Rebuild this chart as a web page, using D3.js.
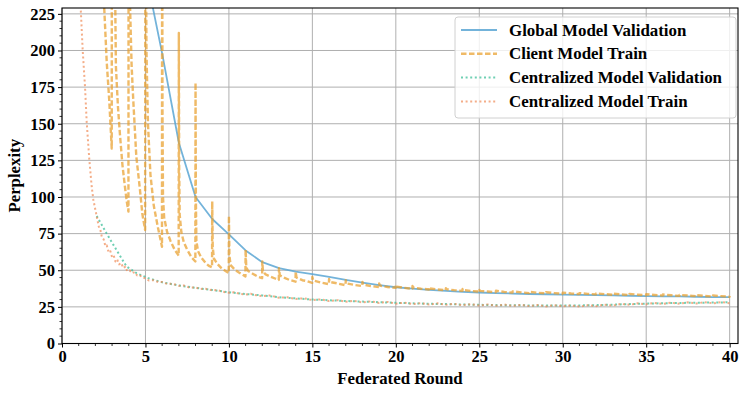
<!DOCTYPE html>
<html>
<head>
<meta charset="utf-8">
<script src="https://cdn.jsdelivr.net/npm/d3@7"></script>
<style>
  body { margin: 0; background: #fff; }
  text { font-family: "Liberation Serif", "Times New Roman", serif; font-weight: bold; }
</style>
</head>
<body>
<svg id="chart" width="747" height="396"></svg>
<script>
// chart values

var xTicks = [0, 5, 10, 15, 20, 25, 30, 35, 40];
var yTicks = [0, 25, 50, 75, 100, 125, 150, 175, 200, 225];

var seriesNames = ["Global Model Validation", "Client Model Train",
                   "Centralized Model Validation", "Centralized Model Train"];

// one value per federated round, rounds 1..40
var globalVal = [1500, 900, 600, 380, 254, 198, 137, 100, 85, 74.5,
                 63.5, 55.5, 51.4, 49, 47.3, 45.5, 43.5, 41.6, 39.9, 38.4,
                 37.4, 36.6, 35.9, 35.3, 34.8, 34.4, 34.1, 33.8, 33.6, 33.4,
                 33.2, 33, 32.8, 32.6, 32.4, 32.2, 32.1, 31.9, 31.7, 31.6];

// [round, perplexity]
var clientTrain = [
  [2.0, 950], [2.2, 520], [2.4, 300], [2.53, 229], [2.68, 192], [2.83, 166], [2.98, 133],
  [3.0, 700], [3.1, 330], [3.23, 189], [3.35, 162], [3.47, 143], [3.62, 122], [3.77, 107], [3.88, 97], [3.98, 90],
  [4.0, 520], [4.04, 300], [4.08, 229], [4.17, 190], [4.27, 166], [4.45, 128], [4.67, 105], [4.82, 88], [4.98, 77.5],
  [5.0, 400], [5.03, 260], [5.06, 200], [5.15, 150], [5.3, 115], [5.5, 94], [5.75, 79], [5.9, 71], [5.99, 66],
  [6.0, 330], [6.02, 160], [6.05, 100], [6.12, 86], [6.3, 76], [6.5, 70], [6.75, 64], [6.99, 60],
  [7.0, 212], [7.02, 120], [7.05, 88], [7.15, 76], [7.3, 69], [7.5, 64], [7.75, 59], [7.99, 56],
  [8.0, 178], [8.02, 100], [8.05, 70], [8.15, 63], [8.35, 58.5], [8.6, 55], [8.8, 53], [8.99, 52],
  [9.0, 97], [9.03, 66], [9.1, 58], [9.3, 54.5], [9.55, 51.5], [9.8, 49.5], [9.99, 48],
  [10.0, 87], [10.03, 60], [10.1, 53.5], [10.35, 50.5], [10.6, 48.5], [10.85, 46.8], [10.99, 45.8],
  [11.0, 64], [11.04, 52], [11.15, 49.5], [11.4, 47.8], [11.7, 45.8], [11.99, 44.6],
  [12.0, 56], [12.04, 49], [12.2, 47.2], [12.5, 45.6], [12.8, 44.2], [12.99, 43.4],
  [13.0, 51.4], [13.05, 46.5], [13.3, 45], [13.6, 43.5], [13.99, 42.2],
  [14.0, 49], [14.05, 45], [14.4, 43.2], [14.7, 42.5], [14.99, 41.4],
  [15.0, 45.4], [15.05, 43], [15.5, 41.6], [15.99, 40.5],
  [16.0, 44], [16.05, 42], [16.5, 41], [16.99, 39.8],
  [17.0, 43.2], [17.05, 41], [17.5, 40], [17.99, 39.2],
  [18.0, 42], [18.05, 40.2], [18.5, 39.2], [18.99, 38.6],
  [19.0, 41], [19.05, 39.5], [19.5, 38.6], [19.99, 38],
  [20.0, 40], [20.05, 38.8], [20.5, 38], [20.99, 37.4],
  [21.0, 39.2], [21.05, 38.2], [21.5, 37.4], [21.99, 36.9],
  [22.0, 38.5], [22.05, 37.5], [22.5, 36.9], [22.99, 36.4],
  [23.0, 37.8], [23.05, 37], [23.5, 36.4], [23.99, 35.9],
  [24.0, 37.2], [24.05, 36.5], [24.5, 35.9], [24.99, 35.4],
  [25.0, 36.6], [25.05, 35.9], [25.5, 35.5], [25.99, 35],
  [26.0, 36], [26.5, 35.2], [26.99, 34.7],
  [27.0, 35.6], [27.5, 34.9], [27.99, 34.4],
  [28.0, 35.3], [28.5, 34.6], [28.99, 34.2],
  [29.0, 35], [29.5, 34.4], [29.99, 33.9],
  [30.0, 34.7], [30.5, 34.1], [30.99, 33.7],
  [31.0, 34.4], [31.5, 33.9], [31.99, 33.5],
  [32.0, 34.2], [32.5, 33.7], [32.99, 33.3],
  [33.0, 34], [33.5, 33.5], [33.99, 33.1],
  [34.0, 33.8], [34.5, 33.3], [34.99, 32.9],
  [35.0, 33.6], [35.5, 33.1], [35.99, 32.7],
  [36.0, 33.4], [36.5, 32.9], [36.99, 32.5],
  [37.0, 33.2], [37.5, 32.7], [37.99, 32.3],
  [38.0, 33], [38.5, 32.5], [38.99, 32.1],
  [39.0, 32.8], [39.5, 32.3], [39.99, 31.9],
  [40.0, 32.5]
];

var centralVal = [
  [2.08, 87], [2.68, 75], [3.28, 63.5], [3.87, 52.5], [4.47, 48], [5.17, 44.6],
  [6, 41.8], [7, 39.6], [8, 38], [9, 36.5], [10, 35], [11, 33.8],
  [12, 32.8], [13, 31.6], [14, 30.8], [15, 30], [16, 29.5], [17, 29], [18, 28.6], [19, 28.2],
  [20, 27.8], [21, 27.4], [22, 27.1], [23, 26.9], [24, 26.6], [25, 26.4], [26, 26.2],
  [27, 26.1], [28, 26], [29, 25.9], [30, 25.9], [31, 26], [32, 26.2], [33, 26.5],
  [34, 26.9], [35, 27.2], [36, 27.5], [37, 27.7], [38, 27.8], [39, 28], [40, 28.1]
];

var centralTrain = [
  [1.0, 290], [1.12, 229], [1.24, 200], [1.38, 175], [1.48, 151], [1.64, 125], [1.78, 107],
  [1.88, 98], [2.04, 89], [2.2, 80], [2.3, 77.5], [2.38, 73], [2.5, 71], [2.6, 66.5],
  [2.68, 67], [2.8, 62], [2.9, 63], [3.0, 59], [3.1, 60], [3.2, 56], [3.3, 57.5], [3.42, 54],
  [3.55, 55], [3.67, 51.5], [3.8, 52.5], [3.9, 49.5], [4.05, 50], [4.2, 48], [4.35, 48.8],
  [4.5, 46.5], [4.65, 46.8], [4.8, 45], [5.0, 44.5], [5.2, 43], [5.5, 43.2], [5.8, 41.8],
  [6.0, 42], [6.3, 40.6], [6.6, 40.9], [7.0, 39.4], [7.3, 39.6], [7.6, 38.3], [8.0, 38.2],
  [8.3, 37.2], [8.6, 37.4], [9.0, 36.2], [9.3, 36.5], [9.6, 35.4], [10.0, 34.6], [10.3, 35],
  [10.6, 34], [11.0, 33.4], [11.3, 33.9], [11.6, 33], [12.0, 32.4], [12.5, 32.8], [13.0, 31.2],
  [13.5, 31.6], [14.0, 30.4], [14.5, 30.9], [15.0, 29.6], [15.5, 30.1], [16.0, 29], [16.5, 29.6],
  [17.0, 28.5], [17.5, 29.1], [18.0, 28], [18.5, 28.8], [19.0, 27.7], [19.5, 28.4], [20.0, 27.2],
  [20.5, 27.9], [21.0, 26.9], [21.5, 27.6], [22.0, 26.6], [22.5, 27.4], [23.0, 26.4], [23.5, 27.1],
  [24.0, 26.1], [24.5, 26.9], [25.0, 25.9], [25.5, 26.7], [26.0, 25.7], [26.5, 26.6],
  [27.0, 25.6], [27.5, 26.4], [28.0, 25.5], [28.5, 26.3], [29.0, 25.3], [29.5, 26.2],
  [30.0, 25.4], [30.5, 26], [31.0, 25.2], [31.5, 26.1], [32.0, 25.5], [32.5, 26.5],
  [33.0, 25.9], [33.5, 27], [34.0, 26.4], [34.5, 27.4], [35.0, 26.8], [35.5, 27.7],
  [36.0, 27], [36.5, 27.9], [37.0, 27.1], [37.5, 28.1], [38.0, 27.3], [38.5, 28.2],
  [39.0, 27.4], [39.5, 28.3], [40.0, 27.5]
];

var svg = d3.select("#chart");
var margin = { top: 8, right: 9, bottom: 52.5, left: 62 },
    width = 747 - margin.left - margin.right,
    height = 396 - margin.top - margin.bottom;

var x = d3.scaleLinear().domain([0, 40.5]).range([0, width]);
var y = d3.scaleLinear().domain([0, 229]).range([height, 0]);

var g = svg.append("g")
    .attr("transform", "translate(" + margin.left + "," + margin.top + ")");

g.append("clipPath").attr("id", "plotclip")
  .append("rect").attr("width", width).attr("height", height);

// grid
g.append("g").selectAll("line").data(xTicks).enter().append("line")
    .attr("x1", d => x(d)).attr("x2", d => x(d))
    .attr("y1", 0).attr("y2", height)
    .attr("stroke", "#b0b0b0").attr("stroke-width", 1);
g.append("g").selectAll("line").data(yTicks).enter().append("line")
    .attr("x1", 0).attr("x2", width)
    .attr("y1", d => y(d)).attr("y2", d => y(d))
    .attr("stroke", "#b0b0b0").attr("stroke-width", 1);

var line = d3.line().x(d => x(d[0])).y(d => y(d[1]));

var plot = g.append("g").attr("clip-path", "url(#plotclip)");

var styles = [
  { color: "#5aa6d4", dash: null, width: 1.8, opacity: 0.85 },
  { color: "#e9a02c", dash: "5.5,2.5", width: 2.4, opacity: 0.72 },
  { color: "#3fbf9a", dash: "2,2.6", width: 2, opacity: 0.75 },
  { color: "#ef8a55", dash: "2,2.6", width: 2, opacity: 0.7 }
];

var globalPts = globalVal.map((v, i) => [i + 1, v]);
var allSeries = [globalPts, clientTrain, centralVal, centralTrain];

allSeries.forEach(function(pts, i) {
  var s = styles[i];
  plot.append("path")
      .datum(pts)
      .attr("d", line)
      .attr("fill", "none")
      .attr("stroke", s.color)
      .attr("stroke-width", s.width)
      .attr("stroke-opacity", s.opacity)
      .attr("stroke-dasharray", s.dash)
      .attr("stroke-linejoin", "round");
});

// axes
var xAxis = d3.axisBottom(x).tickValues(xTicks).tickSize(4).tickPadding(3).tickFormat(d3.format("d"));
var yAxis = d3.axisLeft(y).tickValues(yTicks).tickSize(4).tickPadding(3).tickFormat(d3.format("d"));

var xMinor = d3.range(0, 41, 1).filter(d => d % 5 !== 0);
var yMinor = d3.range(0, 230, 5).filter(d => d % 25 !== 0);

g.append("g").attr("transform", "translate(0," + height + ")")
  .selectAll("line").data(xMinor).enter().append("line")
    .attr("x1", d => x(d)).attr("x2", d => x(d)).attr("y1", 0).attr("y2", 2.5)
    .attr("stroke", "#000").attr("stroke-width", 0.8);
g.append("g")
  .selectAll("line").data(yMinor).enter().append("line")
    .attr("x1", -2.5).attr("x2", 0).attr("y1", d => y(d)).attr("y2", d => y(d))
    .attr("stroke", "#000").attr("stroke-width", 0.8);

var gx = g.append("g").attr("transform", "translate(0," + height + ")").call(xAxis);
var gy = g.append("g").call(yAxis);
[gx, gy].forEach(function(a) {
  a.select(".domain").remove();
  a.selectAll(".tick text").style("font-size", "16.5px").attr("fill", "#000");
  a.selectAll(".tick line").attr("stroke", "#000");
});

// frame
g.append("rect").attr("width", width).attr("height", height)
    .attr("fill", "none").attr("stroke", "#000").attr("stroke-width", 1.1);

// axis labels
g.append("text")
    .attr("x", width / 2).attr("y", height + 40.5)
    .attr("text-anchor", "middle")
    .style("font-size", "16.8px")
    .text("Federated Round");

g.append("text")
    .attr("transform", "rotate(-90)")
    .attr("x", -height / 2).attr("y", -42)
    .attr("text-anchor", "middle")
    .style("font-size", "16.8px")
    .text("Perplexity");

// legend
var legend = svg.append("g").attr("transform", "translate(455,17)");
legend.append("rect")
    .attr("width", 281).attr("height", 101).attr("rx", 3)
    .attr("fill", "#fff").attr("fill-opacity", 0.8)
    .attr("stroke", "#d0d0d0").attr("stroke-width", 1);

seriesNames.forEach(function(name, i) {
  var s = styles[i];
  var row = legend.append("g").attr("transform", "translate(0," + (13 + i * 23.8) + ")");
  row.append("line")
      .attr("x1", 6).attr("x2", 42)
      .attr("stroke", s.color).attr("stroke-width", s.width)
      .attr("stroke-opacity", s.opacity)
      .attr("stroke-dasharray", s.dash);
  row.append("text")
      .attr("x", 54).attr("dy", "0.33em")
      .style("font-size", "16.9px")
      .text(name);
});
</script>
</body>
</html>
